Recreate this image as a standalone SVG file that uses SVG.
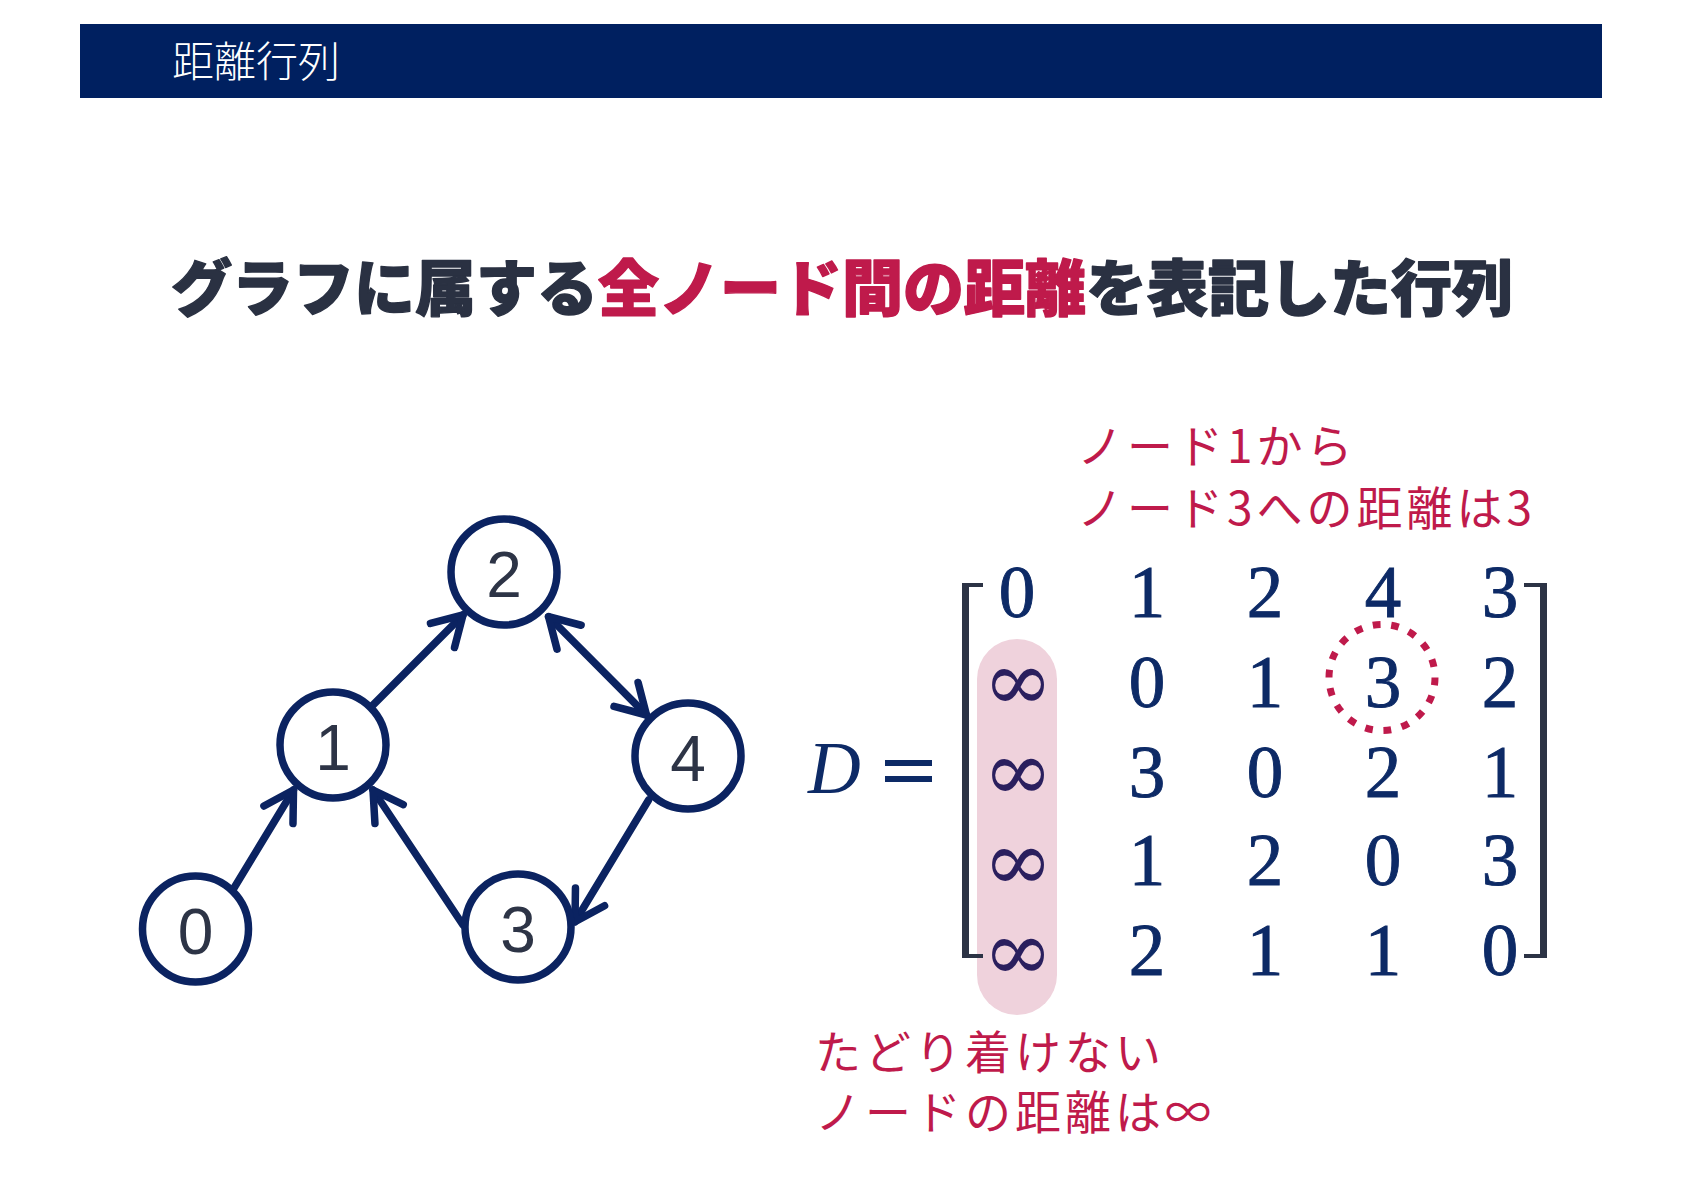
<svg xmlns="http://www.w3.org/2000/svg" width="1684" height="1191" viewBox="0 0 1684 1191">
<style>
.hdr{font-family:"Noto Sans CJK JP","Noto Sans",sans-serif;font-weight:300;font-size:42px;fill:#ffffff}
.head{font-family:"Noto Sans CJK JP","Noto Sans",sans-serif;font-weight:900;font-size:61px;fill:#2a3142;stroke:#2a3142;stroke-width:1.4px;stroke-linejoin:round}
.red{fill:#bf1a4b;stroke:#bf1a4b}
.node circle{fill:#ffffff;stroke:#0b2361;stroke-width:7.5}
.node text{font-family:"Liberation Sans",Arial,sans-serif;font-size:64px;fill:#2d3446;text-anchor:middle}
.edge{stroke:#0b2361;stroke-width:7.5;fill:none;stroke-linecap:round}
.mx{font-family:"Liberation Serif","Times New Roman",serif;font-size:73px;fill:#0d2a66;stroke:#0d2a66;stroke-width:0.9px;text-anchor:middle}
.inf{font-family:"DejaVu Serif",serif;font-size:84px;fill:#2a1f5e;text-anchor:middle}
.ann{font-family:"Noto Sans CJK JP","Noto Sans",sans-serif;font-size:46px;fill:#bf1a4b;letter-spacing:4px}
.br{fill:#2c3345}
</style>
<defs>
<marker id="arr" markerUnits="userSpaceOnUse" viewBox="-40 -30 50 60" refX="0" refY="0" markerWidth="50" markerHeight="60" orient="auto-start-reverse" overflow="visible">
<path d="M -29 -17 L 0 0 L -29 17" fill="none" stroke="#0b2361" stroke-width="7.5" stroke-linecap="round" stroke-linejoin="round"/>
</marker>
</defs>
<rect width="1684" height="1191" fill="#ffffff"/>
<g id="header">
<rect x="80" y="24" width="1522" height="74" fill="#002060"/>
<text class="hdr" x="172" y="77">距離行列</text>
</g>
<g id="heading">
<text class="head" x="842" y="311" text-anchor="middle">グラフに属する<tspan class="red">全ノード間の距離</tspan>を表記した行列</text>
</g>
<g id="connectors">
<line class="edge" x1="234" y1="888" x2="293.5" y2="790" marker-end="url(#arr)"/>
<line class="edge" x1="371" y1="707" x2="463" y2="615" marker-end="url(#arr)"/>
<line class="edge" x1="548.6" y1="616.7" x2="646.5" y2="715" marker-start="url(#arr)" marker-end="url(#arr)"/>
<line class="edge" x1="648.6" y1="800" x2="575" y2="921.7" marker-end="url(#arr)"/>
<line class="edge" x1="463" y1="925" x2="373" y2="790" marker-end="url(#arr)"/>
</g>
<g id="node0" class="node"><circle cx="195.5" cy="929" r="53"/><text x="195.5" y="954">0</text></g>
<g id="node1" class="node"><circle cx="333" cy="745" r="53"/><text x="333" y="770">1</text></g>
<g id="node2" class="node"><circle cx="504" cy="572" r="53"/><text x="504" y="597">2</text></g>
<g id="node3" class="node"><circle cx="518" cy="927" r="53"/><text x="518" y="952">3</text></g>
<g id="node4" class="node"><circle cx="688" cy="756" r="53"/><text x="688" y="781">4</text></g>
<g id="highlight">
<rect x="977" y="639" width="80" height="376" rx="40" ry="40" fill="#efd2dc"/>
</g>
<g id="matrix">
<text x="808" y="793" font-family="Liberation Serif,serif" font-style="italic" font-size="73" fill="#0d2a66">D</text>
<rect x="885" y="760" width="47" height="6" fill="#0d2a66"/>
<rect x="885" y="776" width="47" height="6" fill="#0d2a66"/>
<rect class="br" x="962" y="583" width="7" height="375"/>
<rect class="br" x="962" y="583" width="21" height="4"/>
<rect class="br" x="962" y="954" width="21" height="4"/>
<rect class="br" x="1540" y="583" width="7" height="375"/>
<rect class="br" x="1524" y="583" width="23" height="4"/>
<rect class="br" x="1524" y="954" width="23" height="4"/>
<text class="mx" x="1017" y="617">0</text>
<text class="mx" x="1147" y="617">1</text>
<text class="mx" x="1265" y="617">2</text>
<text class="mx" x="1383" y="617">4</text>
<text class="mx" x="1500" y="617">3</text>
<text class="inf" x="1018" y="710">∞</text>
<text class="mx" x="1147" y="707">0</text>
<text class="mx" x="1265" y="707">1</text>
<text class="mx" x="1383" y="707">3</text>
<text class="mx" x="1500" y="707">2</text>
<text class="inf" x="1018" y="800">∞</text>
<text class="mx" x="1147" y="797">3</text>
<text class="mx" x="1265" y="797">0</text>
<text class="mx" x="1383" y="797">2</text>
<text class="mx" x="1500" y="797">1</text>
<text class="inf" x="1018" y="890">∞</text>
<text class="mx" x="1147" y="885">1</text>
<text class="mx" x="1265" y="885">2</text>
<text class="mx" x="1383" y="885">0</text>
<text class="mx" x="1500" y="885">3</text>
<text class="inf" x="1018" y="980">∞</text>
<text class="mx" x="1147" y="975">2</text>
<text class="mx" x="1265" y="975">1</text>
<text class="mx" x="1383" y="975">1</text>
<text class="mx" x="1500" y="975">0</text>
</g>
<g id="dotted-circle">
<circle cx="1382" cy="677.5" r="53" fill="none" stroke="#bf1a4b" stroke-width="7" pathLength="18" stroke-dasharray="0.42 0.58"/>
</g>
<g id="note-top">
<text class="ann" x="1077" y="463">ノード1から</text>
<text class="ann" x="1077" y="525">ノード3への距離は3</text>
</g>
<g id="note-bottom">
<text class="ann" x="815" y="1069">たどり着けない</text>
<text class="ann" x="815" y="1129">ノードの距離は∞</text>
</g>
</svg>
